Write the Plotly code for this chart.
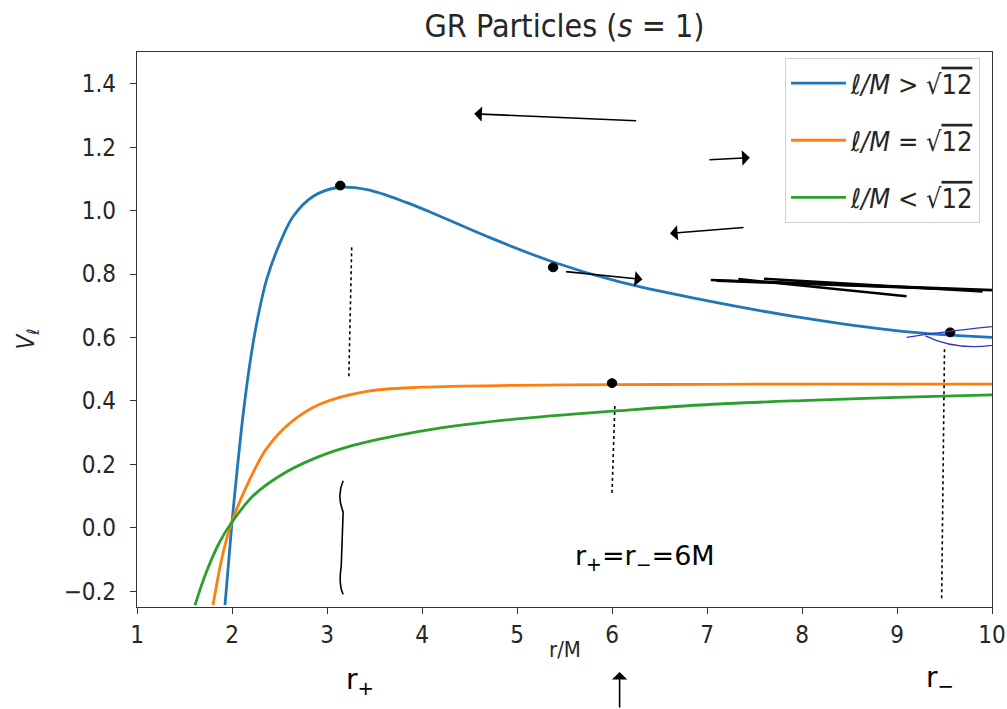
import plotly.graph_objects as go

# Values
r_blue = [1.926, 1.997, 2.05, 2.12, 2.19, 2.26, 2.365, 2.505, 2.645, 2.856, 3.10, 3.42, 3.84, 4.19,
          4.68, 5.38, 6.08, 6.93, 7.98, 9.03, 10.0]
v_blue = [-0.244, 0.007, 0.17, 0.364, 0.521, 0.645, 0.783, 0.898, 0.982, 1.045, 1.072, 1.066, 1.025, 0.982,
          0.919, 0.838, 0.775, 0.72, 0.663, 0.62, 0.60]

r_orange = [1.80, 1.908, 2.01, 2.19, 2.365, 2.61, 2.93, 3.42, 4.0, 5.0, 6.0, 7.0, 8.0, 9.0, 10.0]
v_orange = [-0.244, -0.077, 0.028, 0.154, 0.25, 0.33, 0.39, 0.430, 0.443, 0.449, 0.451, 0.452, 0.453, 0.453, 0.453]

r_green = [1.61, 1.73, 1.87, 2.0, 2.22, 2.505, 2.856, 3.21, 3.73, 4.2, 5.0, 6.08, 6.93, 8.0, 9.0, 10.0]
v_green = [-0.245, -0.14, -0.045, 0.018, 0.10, 0.164, 0.217, 0.254, 0.29, 0.315, 0.343, 0.369, 0.387, 0.401, 0.411, 0.419]

series_names = ["<i>ℓ/M</i> > √<span style='text-decoration:overline'>12</span>",
                "<i>ℓ/M</i> = √<span style='text-decoration:overline'>12</span>",
                "<i>ℓ/M</i> < √<span style='text-decoration:overline'>12</span>"]
colors = ["#1f77b4", "#ff7f0e", "#2ca02c"]

x_ticks = [1, 2, 3, 4, 5, 6, 7, 8, 9, 10]
y_ticks = [-0.2, 0.0, 0.2, 0.4, 0.6, 0.8, 1.0, 1.2, 1.4]
y_tick_text = ["\u22120.2", "0.0", "0.2", "0.4", "0.6", "0.8", "1.0", "1.2", "1.4"]

FONT = "DejaVu Sans Condensed, DejaVu Sans"
TXT = "#262626"

fig = go.Figure()
for i, (xs, ys, name, col) in enumerate(zip([r_blue, r_orange, r_green], [v_blue, v_orange, v_green],
                                            series_names, colors)):
    fig.add_trace(go.Scatter(x=xs, y=ys, mode="lines", name=name, legendgroup=f"g{i}",
                             line=dict(color=col, width=2.8, shape="spline", smoothing=1.0)))

axis_common = dict(showgrid=False, zeroline=False, showline=True, mirror=True, automargin=False,
                   linecolor="#333333", linewidth=1.3, ticks="outside", ticklen=6,
                   tickcolor="#333333", tickwidth=1.2,
                   tickfont=dict(family=FONT, size=24, color=TXT))

fig.update_xaxes(range=[1, 10], tickvals=x_ticks, ticktext=[str(t) for t in x_ticks], **axis_common)
fig.update_yaxes(range=[-0.25, 1.5], tickvals=y_ticks, ticktext=y_tick_text, ticklabelstandoff=9,
                 **axis_common)

fig.update_layout(
    width=1007, height=709,
    margin=dict(l=137, r=15, t=52, b=102),
    paper_bgcolor="white", plot_bgcolor="white",
    title=dict(text="GR Particles (<i>s</i> = 1)", x=0.5, xanchor="center", xref="paper",
               y=1 - 26 / 709, yanchor="middle",
               font=dict(family=FONT, size=32, color=TXT)),
    legend=dict(x=0.986, y=0.989, xanchor="right", yanchor="top",
                bordercolor="#d0d0d0", borderwidth=1, bgcolor="rgba(255,255,255,0.8)",
                font=dict(family=FONT, size=27, color=TXT),
                tracegroupgap=19, itemwidth=55),
    showlegend=True,
)

# axis titles placed like the reference
fig.add_annotation(x=0.5, y=-0.077, xref="paper", yref="paper", text="r/M", showarrow=False,
                   xanchor="center", yanchor="middle", font=dict(family=FONT, size=22, color=TXT))
fig.add_annotation(x=-0.128, y=0.483, xref="paper", yref="paper", text="<i>V<sub>ℓ</sub></i>",
                   showarrow=False, textangle=-90, xanchor="center", yanchor="middle",
                   font=dict(family=FONT, size=24, color=TXT))

# ---- hand-written marks seen on the reference ----
INK = "black"
arrows = [(4.55, 1.305, 6.27, 1.283), (7.45, 1.167, 7.01, 1.160),
          (6.61, 0.928, 7.40, 0.947), (6.32, 0.783, 5.50, 0.808)]
for (x1, y1, x0, y0) in arrows:
    fig.add_annotation(x=x1, y=y1, ax=x0, ay=y0, xref="x", yref="y", axref="x", ayref="y",
                       text="", showarrow=True, arrowhead=1, arrowsize=1.6, arrowwidth=1.6,
                       arrowcolor=INK)
# up arrow below the axis
fig.add_annotation(x=6.08, y=-0.117, ax=0, ay=37, xref="x", yref="paper", axref="pixel", ayref="pixel",
                   text="", showarrow=True, arrowhead=1, arrowsize=1.6, arrowwidth=1.6, arrowcolor=INK)
# dots
for (xd, yd) in [(3.14, 1.079), (6.0, 0.456), (9.56, 0.616), (5.38, 0.821)]:
    fig.add_shape(type="circle", xref="x", yref="y", x0=xd - 0.05, x1=xd + 0.05,
                  y0=yd - 0.014, y1=yd + 0.014, fillcolor=INK, line=dict(color=INK, width=1))
# dotted verticals
for (xv, ya, yb) in [(3.26, 0.884, 0.475), (6.03, 0.384, 0.107), (9.5, 0.563, -0.225)]:
    fig.add_shape(type="line", xref="x", yref="y", x0=xv, x1=xv - 0.03, y0=ya, y1=yb,
                  line=dict(color=INK, width=1.6, dash="dot"))
# wavy brace
fig.add_shape(type="path", xref="x", yref="y",
              path="M 3.17,0.148 Q 3.10,0.10 3.17,0.05 L 3.15,-0.12 Q 3.12,-0.18 3.17,-0.21",
              line=dict(color=INK, width=1.6))
# thick scribble
for (xa, ya, xb, yb) in [(7.04, 0.781, 10.1, 0.748), (7.33, 0.784, 9.1, 0.730),
                         (7.6, 0.785, 9.9, 0.745), (7.1, 0.779, 9.6, 0.752)]:
    fig.add_shape(type="line", xref="x", yref="y", x0=xa, y0=ya, x1=xb, y1=yb,
                  line=dict(color=INK, width=2.6))
# blue scribble near the minimum
fig.add_shape(type="path", xref="x", yref="y",
              path="M 9.1,0.600 Q 9.5,0.62 10.2,0.640 M 9.3,0.605 Q 9.6,0.56 10.0,0.575 L 10.2,0.59",
              line=dict(color="#3333cc", width=1.3))
# hand-written text
fig.add_annotation(x=6.35, y=-0.095, xref="x", yref="y", text="r<sub>+</sub>=r<sub>−</sub>=6M",
                   showarrow=False, font=dict(family="DejaVu Sans", size=27, color=INK))
fig.add_annotation(x=3.35, y=-0.135, xref="x", yref="paper", text="r<sub>+</sub>", showarrow=False,
                   yanchor="middle", font=dict(family="DejaVu Sans", size=28, color=INK))
fig.add_annotation(x=9.45, y=-0.13, xref="x", yref="paper", text="r<sub>−</sub>", showarrow=False,
                   yanchor="middle", font=dict(family="DejaVu Sans", size=28, color=INK))

fig.write_html("out.html")
